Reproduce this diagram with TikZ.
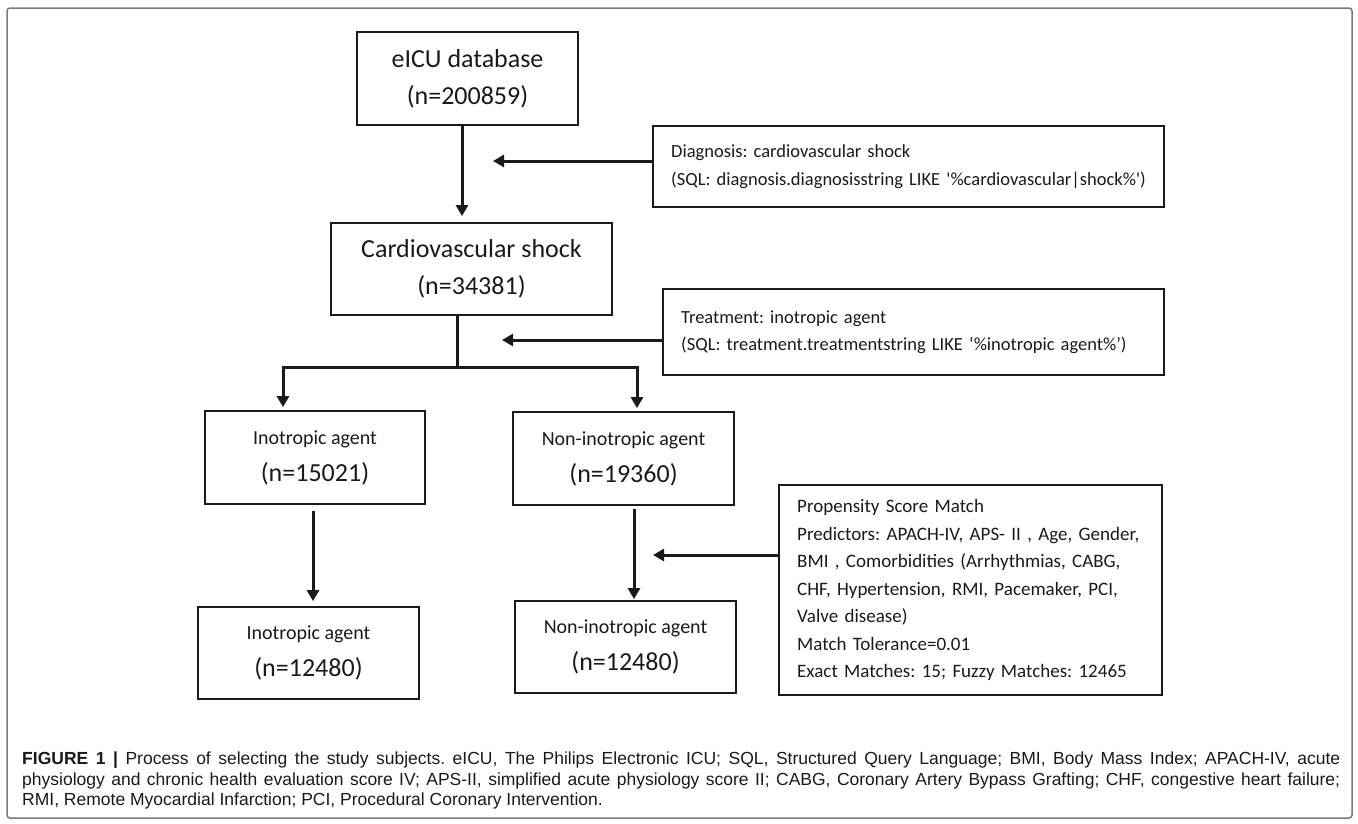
\documentclass[tikz,border=0pt]{standalone}
\usepackage{fontspec}
\setmainfont{Carlito}
\newfontfamily\capfont{Liberation Sans}
\usepackage{tikz}
\usetikzlibrary{arrows.meta}
\definecolor{framegray}{HTML}{7A7A7A}
\definecolor{inkdark}{HTML}{1A1A1A}
\frenchspacing

\begin{document}
\begin{tikzpicture}[x=1pt,y=-1pt,>={Triangle[length=11pt,width=12pt]},
    box/.style={draw=inkdark,line width=1.8pt,align=center,inner sep=0pt,text=inkdark,font=\fontsize{26}{37}\selectfont},
    note/.style={draw=inkdark,line width=2.4pt,align=left,inner xsep=18pt,anchor=north west,text=inkdark,font=\fontsize{18.5}{27.5}\selectfont\frenchspacing},
    flow/.style={->,line width=3pt,draw=inkdark},
    link/.style={line width=3pt,draw=inkdark}]
  \useasboundingbox (0,0) rectangle (1358,823);
  \draw[framegray,line width=1.5pt,rounded corners=3pt] (7,8) rectangle (1352,818);

  % main column
  \node[box,minimum width=221pt,minimum height=93pt] (db) at (467.5,78.5) {eICU database\\(n=200859)};
  \node[box,minimum width=281pt,minimum height=92pt] (shock) at (471.5,269) {Cardiovascular shock\\(n=34381)};
  \node[box,minimum width=220pt,minimum height=93pt] (ino) at (315,457.5) {{\fontsize{20}{37}\selectfont Inotropic agent}\\(n=15021)};
  \node[box,minimum width=221pt,minimum height=93pt] (non) at (623.5,458.5) {{\fontsize{20}{37}\selectfont Non-inotropic agent}\\(n=19360)};
  \node[box,minimum width=221pt,minimum height=92pt] (inom) at (308.5,653) {{\fontsize{20}{37}\selectfont Inotropic agent}\\(n=12480)};
  \node[box,minimum width=221pt,minimum height=92pt] (nonm) at (625.5,647) {{\fontsize{20}{37}\selectfont Non-inotropic agent}\\(n=12480)};

  % selection criteria
  \node[note,text width=475pt,minimum height=81pt] (diag) at (652,125) {Diagnosis: cardiovascular shock\\\mbox{(SQL: diagnosis.diagnosisstring LIKE \textquotesingle\%cardiovascular|shock\%\textquotesingle)}};
  \node[note,text width=465pt,minimum height=86pt] (treat) at (662,288) {Treatment: inotropic agent\\\mbox{(SQL: treatment.treatmentstring LIKE `\%inotropic agent\%')}};
  \node[note,text width=347pt,minimum height=210pt,font=\fontsize{19}{27.5}\selectfont] (psm) at (778,484) {Propensity Score Match\\
    \makebox[347pt][s]{Predictors: APACH-IV, APS- II , Age, Gender,}\\
    \makebox[347pt][s]{BMI , Comorbidities (Arrhythmias, CABG,}\\
    \makebox[347pt][s]{CHF, Hypertension, RMI, Pacemaker, PCI,}\\
    Valve disease)\\
    Match Tolerance=0.01\\
    Exact Matches: 15; Fuzzy Matches: 12465};

  \coordinate (dtip) at (493,161);
  \coordinate (ttip) at (502,340);
  \coordinate (ptip) at (653,555);
  \coordinate (split) at (457,367);

  \draw[flow] ([xshift=-5.5pt]db.south) -- ([xshift=-9.5pt,yshift=6pt]shock.north);
  \draw[flow] (diag.west |- dtip) -- (dtip);
  \draw[flow] (treat.west |- ttip) -- (ttip);
  \draw[link] ([xshift=-14.5pt]shock.south) -- (split);
  \draw[flow] (split) -| ([xshift=-32pt,yshift=3pt]ino.north);
  \draw[flow] (split) -| ([xshift=13.5pt,yshift=3pt]non.north);
  \draw[flow] ([xshift=-2pt,yshift=-6pt]ino.south) -- ([xshift=4.5pt,yshift=5pt]inom.north);
  \draw[flow] ([xshift=10.5pt,yshift=-3pt]non.south) -- ([xshift=8.5pt,yshift=1pt]nonm.north);
  \draw[flow] (psm.west |- ptip) -- (ptip);

  % caption
  \node[anchor=north west,inner sep=0pt,align=left,text=inkdark,font=\capfont\fontsize{17.5}{20.5}\selectfont\frenchspacing] (cap) at (22,752) {\makebox[1318pt][s]{\textbf{FIGURE 1 |} Process of selecting the study subjects. eICU, The Philips Electronic ICU; SQL, Structured Query Language; BMI, Body Mass Index; APACH-IV, acute}\\
    \makebox[1318pt][s]{physiology and chronic health evaluation score IV; APS-II, simplified acute physiology score II; CABG, Coronary Artery Bypass Grafting; CHF, congestive heart failure;}\\
    RMI, Remote Myocardial Infarction; PCI, Procedural Coronary Intervention.};
\end{tikzpicture}
\end{document}
